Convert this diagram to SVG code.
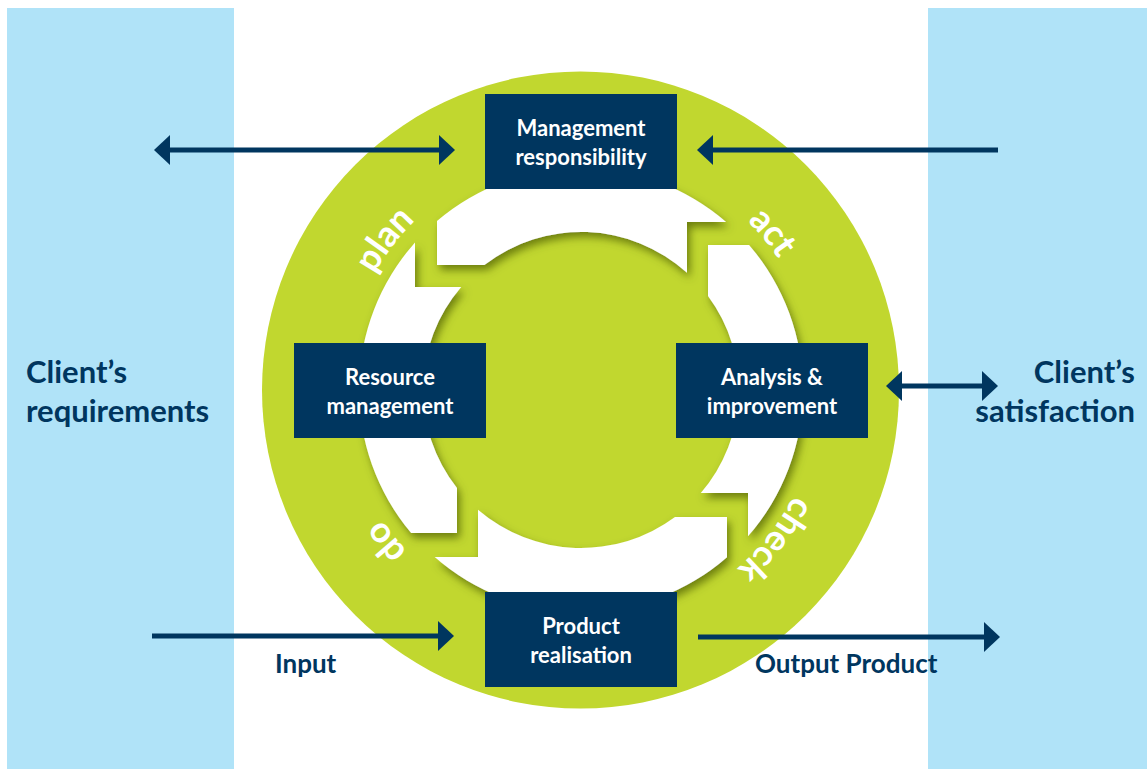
<svg xmlns="http://www.w3.org/2000/svg" width="1147" height="769" viewBox="0 0 1147 769">
  <style>
    .panel { fill: #b0e3f8; }
    .ring { fill: #c1d72f; }
    .band { fill: #ffffff; filter: url(#bandShadow); }
    .box { fill: #00365f; }
    .boxText { font-family: Lato, "Open Sans", sans-serif; font-weight: 700; font-size: 22px; fill: #ffffff; text-anchor: middle; }
    .sideText { font-family: Lato, "Open Sans", sans-serif; font-weight: 700; font-size: 31px; fill: #00365f; }
    .flowText { font-family: Lato, "Open Sans", sans-serif; font-weight: 700; font-size: 26px; fill: #00365f; }
    .cycleText { font-family: Lato, "Open Sans", sans-serif; font-weight: 700; font-size: 36px; fill: #ffffff; }
    .conn { stroke: #00365f; stroke-width: 5; fill: none; }
  </style>
  <defs>
    <filter id="bandShadow" x="-20%" y="-20%" width="140%" height="140%">
      <feDropShadow dx="3" dy="5" stdDeviation="4" flood-color="#4a5800" flood-opacity="0.7"/>
    </filter>
    <marker id="head" markerUnits="userSpaceOnUse" markerWidth="17" markerHeight="30" refX="0" refY="15" orient="auto-start-reverse">
      <path d="M0,0 L16,15 L0,30 Z" fill="#00365f"/>
    </marker>
    <!-- clockwise baseline circle for the cycle words -->
    <path id="cyclePath" d="M344,390 A237,237 0 1,1 818,390 A237,237 0 1,1 344,390"/>
  </defs>

  <!-- side panels -->
  <rect class="panel" x="7" y="8" width="227" height="761"/>
  <rect class="panel" x="928" y="8" width="219" height="761"/>

  <!-- green ring -->
  <circle class="ring" cx="580.5" cy="390" r="318.5"/>

  <!-- connectors -->
  <g id="connectors">
    <line class="conn" x1="170" y1="150" x2="439" y2="150" marker-start="url(#head)" marker-end="url(#head)"/>
    <line class="conn" x1="998" y1="150" x2="713" y2="150" marker-end="url(#head)"/>
    <line class="conn" x1="902" y1="386" x2="982" y2="386" marker-start="url(#head)" marker-end="url(#head)"/>
    <line class="conn" x1="152" y1="636" x2="438" y2="636" marker-end="url(#head)"/>
    <line class="conn" x1="698" y1="637" x2="984" y2="637" marker-end="url(#head)"/>
  </g>

  <!-- white cycle arrows (counter-clockwise) -->
  <g id="cycle-arrows">
    <path class="band" d="M437,221 L437,265 L484.4,265 A158,158 0 0,1 687,272.8 L687,222 L726.1,222 A222,222 0 0,0 437,221 Z"/>
    <path class="band" d="M415,242.6 L415,287 L461.2,287 A158,158 0 0,0 457,487.9 L457,533 L411.2,533 A222,222 0 0,1 415,242.6 Z"/>
    <path class="band" d="M478,509.8 L478,557 L434.7,557 A222,222 0 0,0 727,557.2 L727,517 L675,517 A158,158 0 0,1 478,509.8 Z"/>
    <path class="band" d="M700.8,493 L748,493 L748,536.3 A222,222 0 0,0 749.1,245 L708,245 L708,296 A158,158 0 0,1 700.8,493 Z"/>
  </g>

  <!-- cycle words -->
  <g id="cycle-words" class="cycleText">
    <text text-anchor="middle"><textPath href="#cyclePath" startOffset="155">plan</textPath></text>
    <text text-anchor="middle"><textPath href="#cyclePath" startOffset="581">act</textPath></text>
    <text text-anchor="middle"><textPath href="#cyclePath" startOffset="900">check</textPath></text>
    <text text-anchor="middle"><textPath href="#cyclePath" startOffset="1332">do</textPath></text>
  </g>

  <!-- process boxes -->
  <g id="management">
    <rect class="box" x="485" y="94" width="192" height="95"/>
    <text class="boxText" x="581" y="136">Management</text>
    <text class="boxText" x="581" y="165">responsibility</text>
  </g>
  <g id="resource">
    <rect class="box" x="294" y="343" width="192" height="95"/>
    <text class="boxText" x="390" y="385">Resource</text>
    <text class="boxText" x="390" y="414">management</text>
  </g>
  <g id="analysis">
    <rect class="box" x="676" y="343" width="192" height="95"/>
    <text class="boxText" x="772" y="385">Analysis &amp;</text>
    <text class="boxText" x="772" y="414">improvement</text>
  </g>
  <g id="product">
    <rect class="box" x="485" y="592" width="192" height="95"/>
    <text class="boxText" x="581" y="634">Product</text>
    <text class="boxText" x="581" y="663">realisation</text>
  </g>

  <!-- side labels -->
  <g id="client-requirements">
    <text class="sideText" x="26" y="383">Client’s</text>
    <text class="sideText" x="26" y="422">requirements</text>
  </g>
  <g id="client-satisfaction">
    <text class="sideText" x="1135" y="383" text-anchor="end">Client’s</text>
    <text class="sideText" x="1135" y="422" text-anchor="end">satisfaction</text>
  </g>
  <g id="flow-labels">
    <text class="flowText" x="275" y="673">Input</text>
    <text class="flowText" x="755" y="673">Output Product</text>
  </g>
</svg>
